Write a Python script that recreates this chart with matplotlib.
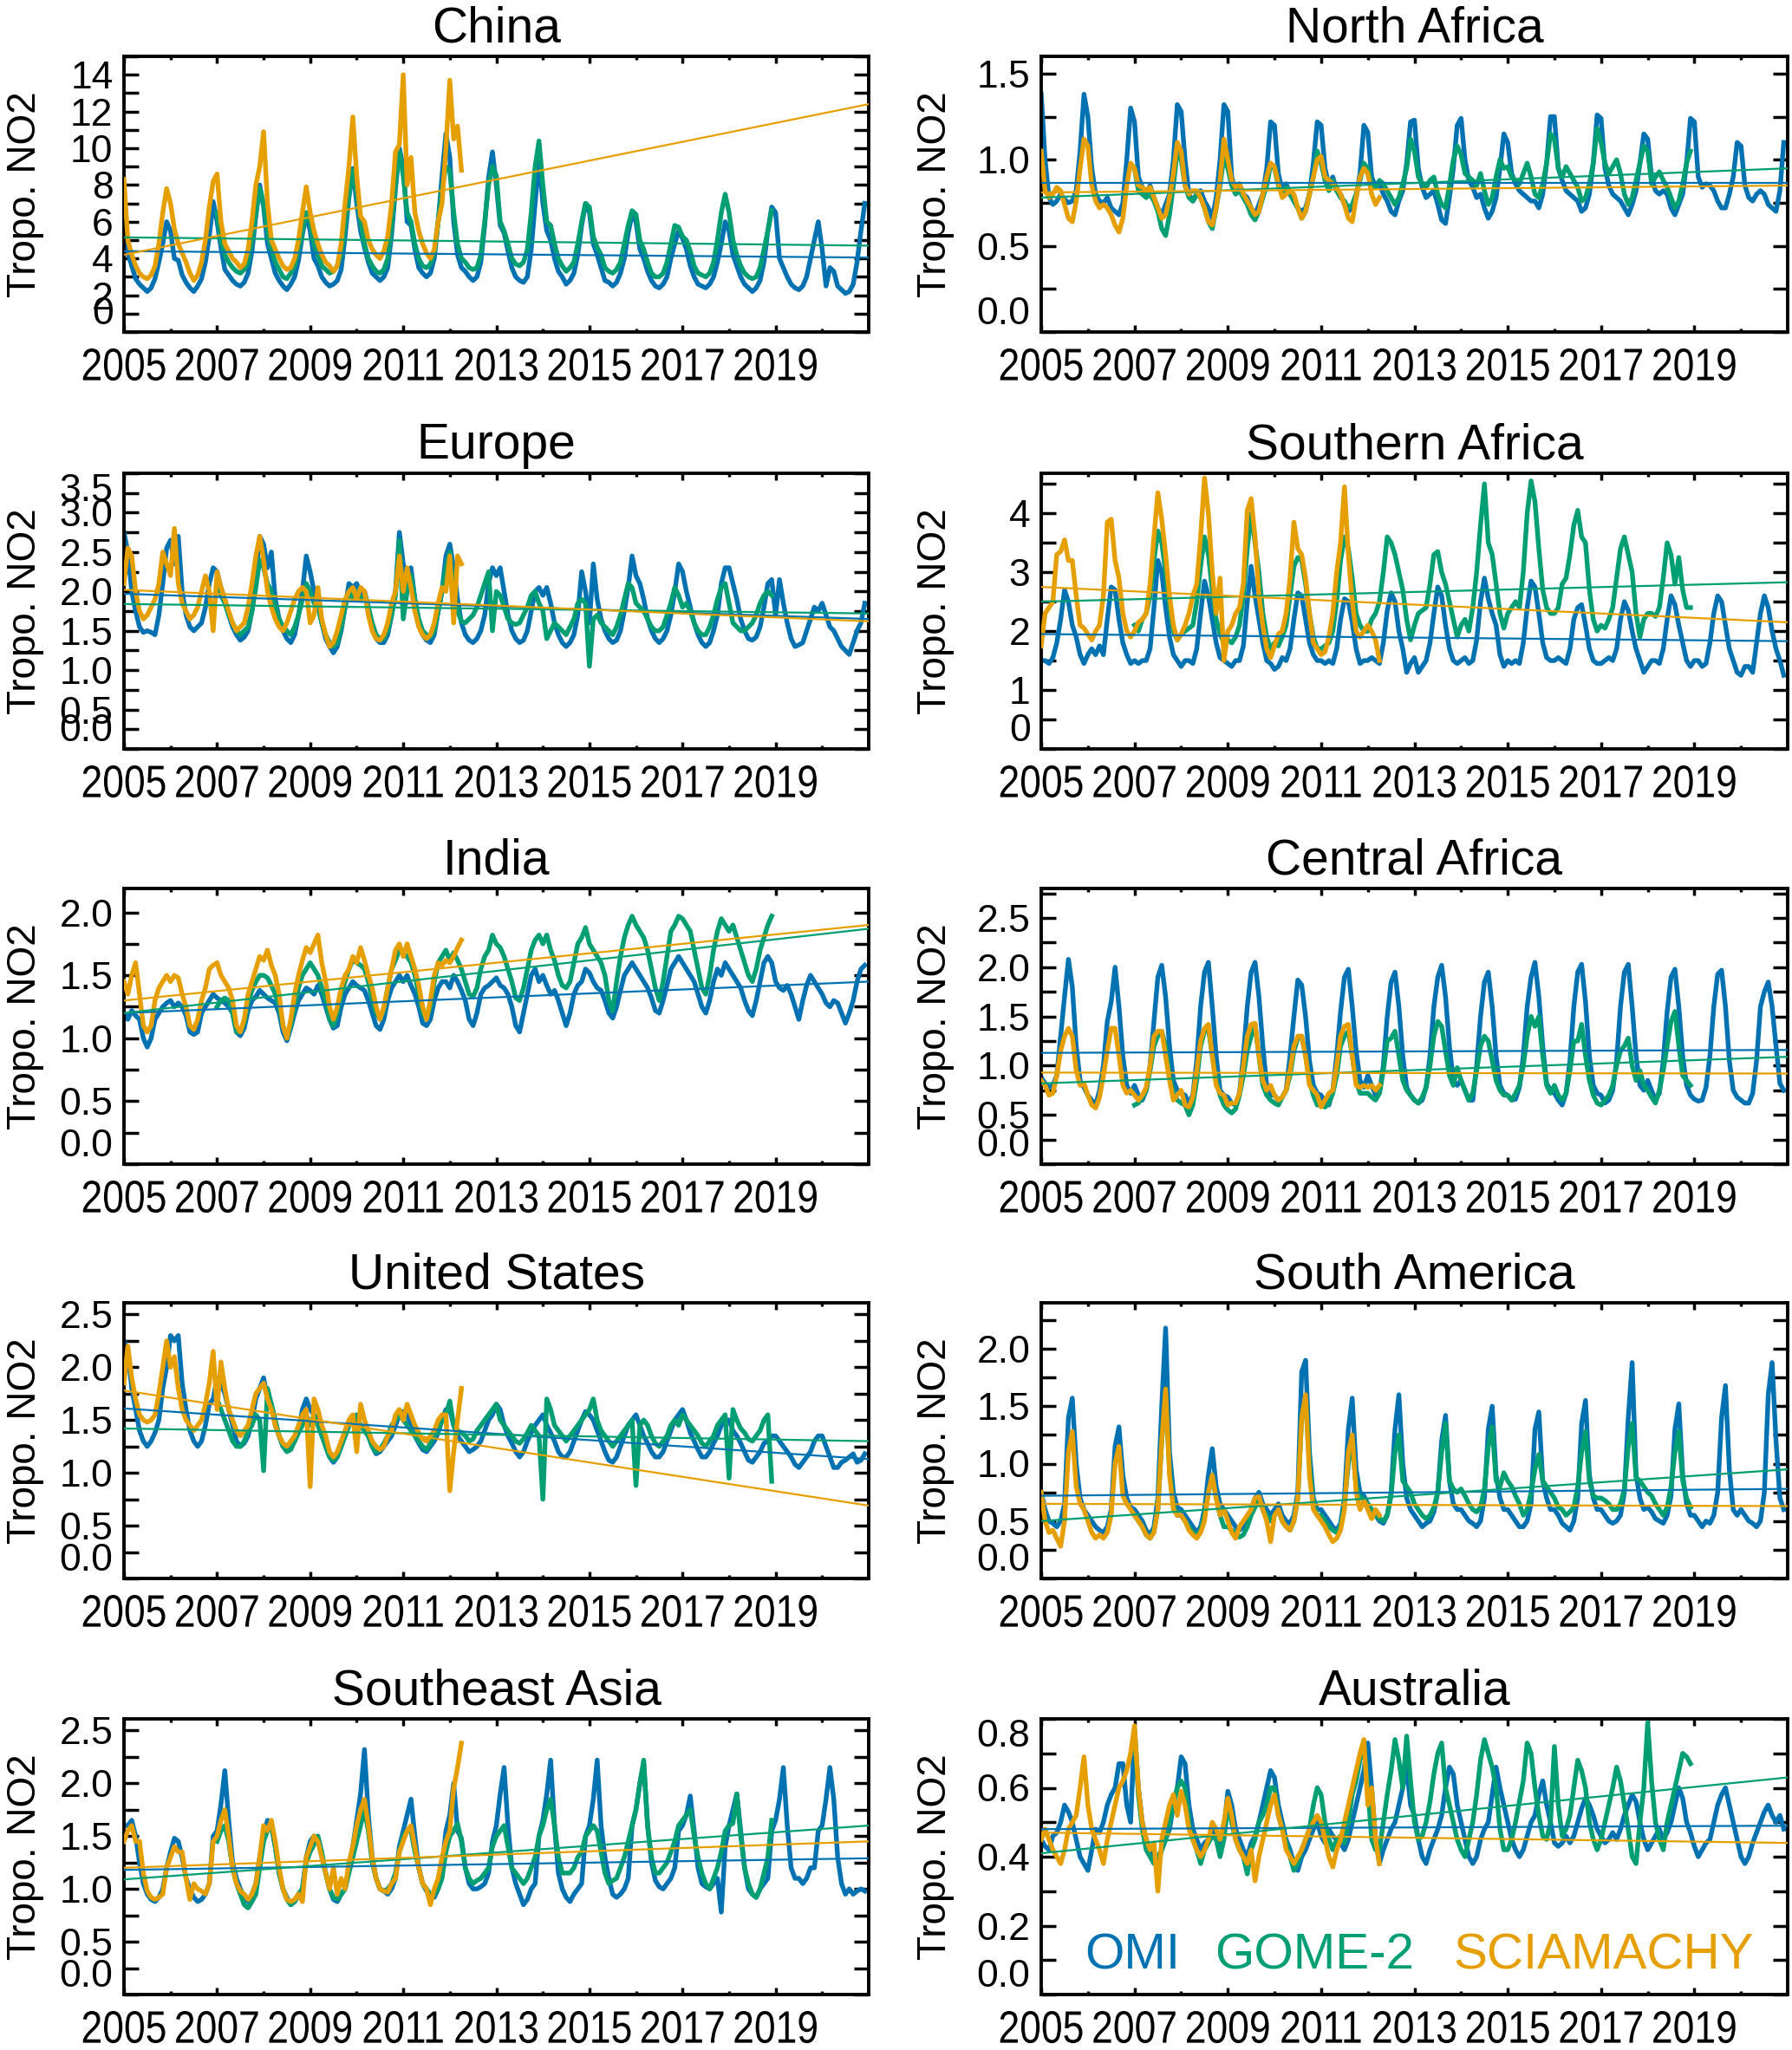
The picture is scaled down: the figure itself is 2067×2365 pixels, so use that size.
import numpy as np
import matplotlib
matplotlib.use("Agg")
import matplotlib.pyplot as plt
from matplotlib.ticker import FixedLocator, MultipleLocator
from matplotlib.patheffects import AbstractPathEffect
from matplotlib.transforms import Affine2D

# colours of the three instruments
c_omi = "#0072B2"
c_gome = "#009E73"
c_scia = "#E69F00"

# monthly series: OMI 2005-01..2020-12, GOME-2 2007-01..2018-12, SCIAMACHY 2005-01..2012-04
omi_china = [
    5.8, 4.3, 3.6, 2.9, 2.6, 2.4, 2.2, 2.4, 2.9, 3.8, 4.8, 6.0,
    5.5, 4.0, 3.9, 3.1, 2.7, 2.4, 2.2, 2.5, 2.9, 3.8, 5.2, 7.1,
    6.0, 4.6, 3.4, 3.1, 2.8, 2.6, 2.5, 2.7, 3.2, 4.4, 6.3, 8.0,
    6.8, 4.8, 4.0, 3.2, 2.8, 2.5, 2.3, 2.6, 3.0, 3.9, 5.3, 6.4,
    5.5, 4.0, 3.6, 3.0, 2.7, 2.5, 2.6, 2.8, 3.4, 5.2, 7.3, 8.9,
    7.0, 5.5, 4.6, 3.8, 3.2, 3.0, 2.8, 3.0, 3.5, 5.3, 7.8, 10.0,
    9.0, 6.0, 5.8, 4.5, 3.5, 3.2, 3.0, 3.2, 4.0, 6.0, 8.5, 10.8,
    9.5, 6.0, 4.2, 3.5, 3.3, 3.0, 2.8, 3.0, 3.8, 5.8, 8.4, 9.8,
    8.0, 5.8, 5.4, 4.4, 3.5, 3.0, 2.8, 2.7, 3.0, 4.5, 7.0, 9.4,
    7.0, 5.5, 5.0, 4.0, 3.3, 3.0, 2.6, 2.8, 3.2, 4.2, 5.8, 7.0,
    6.5, 4.8, 4.2, 3.5, 2.8, 2.7, 2.5, 2.7, 3.2, 4.0, 5.4, 6.4,
    6.0, 4.5, 4.0, 3.3, 2.8, 2.5, 2.4, 2.6, 3.0, 4.0, 4.8, 5.5,
    5.1, 4.5, 3.6, 3.0, 2.6, 2.5, 2.4, 2.6, 3.0, 3.8, 4.8, 6.0,
    5.5, 4.2, 3.6, 3.0, 2.6, 2.4, 2.2, 2.4, 2.8, 3.8, 5.5, 6.8,
    6.5, 4.0, 3.5, 3.0, 2.6, 2.4, 2.3, 2.5, 3.0, 4.0, 5.0, 6.0,
    4.5, 2.5, 3.5, 3.3, 2.5, 2.3, 2.1, 2.2, 2.6, 3.8, 5.5, 7.0,
]
gome_china = [
    6.5, 5.0, 4.2, 3.8, 3.5, 3.3, 3.2, 3.4, 3.8, 5.0, 6.5, 7.8,
    7.0, 5.5, 4.5, 3.8, 3.4, 3.0, 2.9, 3.2, 3.6, 4.5, 5.5, 6.5,
    6.0, 4.8, 4.2, 3.6, 3.4, 3.2, 3.3, 3.6, 4.2, 5.8, 7.5, 8.8,
    7.5, 6.0, 4.8, 4.0, 3.6, 3.3, 3.2, 3.4, 4.0, 5.8, 8.0, 9.8,
    8.5, 6.5, 6.0, 4.8, 4.0, 3.6, 3.5, 3.7, 4.3, 6.0, 7.8, 9.0,
    8.8, 6.5, 4.8, 4.0, 3.8, 3.5, 3.4, 3.5, 4.2, 6.0, 8.0, 9.0,
    8.5, 6.0, 5.5, 4.8, 4.0, 3.7, 3.6, 3.8, 4.5, 6.5, 9.0, 10.4,
    8.0, 6.0, 5.8, 4.8, 4.0, 3.6, 3.3, 3.5, 3.8, 4.8, 6.0, 7.0,
    6.8, 5.2, 4.6, 4.2, 3.5, 3.3, 3.2, 3.4, 3.8, 4.8, 5.8, 6.6,
    6.4, 5.0, 4.5, 3.8, 3.2, 3.0, 3.0, 3.2, 3.8, 4.8, 5.8, 5.7,
    5.2, 5.0, 4.4, 3.6, 3.2, 3.1, 3.0, 3.2, 3.8, 5.0, 6.5, 7.5,
    6.5, 5.0, 4.2, 3.6, 3.2, 3.0, 2.9, 3.0, 3.5, 4.5, 5.5, 6.6,
]
scia_china = [
    8.3, 5.0, 4.2, 3.6, 3.2, 3.0, 2.9, 3.1, 3.6, 4.8, 6.5, 7.8,
    7.0, 5.6, 4.8, 4.3, 3.8, 3.2, 2.8, 3.1, 3.8, 5.0, 6.8, 8.2,
    8.6, 6.0, 4.8, 4.4, 4.0, 3.8, 3.5, 3.7, 4.5, 6.0, 8.0, 9.0,
    10.9, 7.0, 5.0, 4.5, 4.0, 3.6, 3.4, 3.5, 4.0, 5.0, 6.5, 7.9,
    6.5, 5.5, 4.8, 4.2, 3.8, 3.6, 3.3, 3.6, 4.8, 7.0, 9.0, 11.7,
    8.5, 6.3, 6.0, 5.0, 4.5, 4.2, 4.0, 4.4, 5.2, 7.0, 9.8, 10.2,
    14.0, 8.0, 9.5, 6.5, 5.5, 4.8, 4.3, 4.0, 4.5, 6.0, 7.0, 10.0,
    13.7, 10.5, 11.2, 8.8,
]

omi_nafr = [
    1.38, 1.0, 0.78, 0.74, 0.76, 0.8, 0.77, 0.75, 0.76, 0.82, 1.05, 1.38,
    1.25, 0.95, 0.8, 0.76, 0.75, 0.78, 0.72, 0.7, 0.68, 0.75, 1.0, 1.3,
    1.22, 0.9, 0.84, 0.8, 0.85, 0.78, 0.72, 0.68, 0.74, 0.8, 1.0, 1.32,
    1.28, 1.0, 0.8, 0.76, 0.8, 0.82, 0.76, 0.72, 0.66, 0.78, 1.0, 1.32,
    1.28, 0.9, 0.82, 0.86, 0.8, 0.78, 0.72, 0.68, 0.74, 0.8, 0.95, 1.22,
    1.2, 0.92, 0.82, 0.86, 0.8, 0.76, 0.72, 0.7, 0.72, 0.8, 0.98, 1.22,
    1.2, 0.95, 0.85, 0.9, 0.82, 0.8, 0.74, 0.7, 0.72, 0.78, 0.92, 1.2,
    1.16, 0.9, 0.84, 0.86, 0.8, 0.76, 0.7, 0.68, 0.76, 0.82, 0.98, 1.22,
    1.23, 0.95, 0.84, 0.78, 0.8, 0.82, 0.74, 0.65, 0.63, 0.78, 0.95, 1.2,
    1.24, 1.0, 0.88, 0.84, 0.78, 0.8, 0.72, 0.66, 0.7, 0.78, 0.95, 1.15,
    1.1, 0.92, 0.86, 0.82, 0.8, 0.78, 0.76, 0.76, 0.72, 0.8, 0.98, 1.25,
    1.25, 0.95, 0.88, 0.82, 0.8, 0.78, 0.76, 0.7, 0.72, 0.8, 0.98, 1.26,
    1.24, 0.95, 0.85, 0.8, 0.78, 0.76, 0.72, 0.68, 0.74, 0.82, 0.98, 1.15,
    1.12, 0.9, 0.82, 0.8, 0.82, 0.8, 0.72, 0.68, 0.74, 0.8, 0.98, 1.24,
    1.22, 0.9, 0.84, 0.86, 0.85, 0.82, 0.76, 0.72, 0.72, 0.8, 0.9, 1.1,
    1.08, 0.85, 0.78, 0.76, 0.8, 0.82, 0.8, 0.74, 0.72, 0.7, 0.82, 1.1,
]
gome_nafr = [
    0.95, 0.82, 0.8, 0.78, 0.8, 0.76, 0.7, 0.6, 0.56, 0.68, 0.85, 1.05,
    1.0, 0.85, 0.78, 0.76, 0.8, 0.78, 0.72, 0.64, 0.6, 0.72, 0.85, 1.02,
    0.95, 0.85, 0.8, 0.82, 0.78, 0.74, 0.68, 0.65, 0.7, 0.78, 0.85, 0.97,
    0.95, 0.85, 0.8, 0.84, 0.8, 0.76, 0.72, 0.66, 0.7, 0.8, 0.9, 1.05,
    0.98, 0.88, 0.82, 0.88, 0.82, 0.78, 0.76, 0.72, 0.74, 0.8, 0.88, 0.98,
    0.95, 0.86, 0.84, 0.88, 0.86, 0.82, 0.78, 0.74, 0.78, 0.86, 0.95, 1.12,
    1.05, 0.9, 0.86, 0.84, 0.88, 0.9, 0.8, 0.74, 0.72, 0.85, 1.0, 1.08,
    1.03, 0.92, 0.9, 0.88, 0.85, 0.92, 0.82, 0.74, 0.78, 0.9, 1.0, 0.95,
    0.96, 0.9, 0.88, 0.86, 0.92, 0.98, 0.9, 0.8, 0.78, 0.86, 0.98, 1.15,
    1.12, 0.95, 0.9, 0.96, 0.92, 0.88, 0.84, 0.76, 0.78, 0.86, 0.98, 1.18,
    1.1, 0.98, 0.92, 0.96, 1.0, 0.92, 0.8, 0.74, 0.78, 0.88, 0.98, 1.08,
    1.05, 0.86, 0.9, 0.93, 0.88, 0.84, 0.78, 0.72, 0.76, 0.86, 0.98, 1.05,
]
scia_nafr = [
    1.05, 0.82, 0.78, 0.8, 0.84, 0.82, 0.74, 0.66, 0.64, 0.76, 0.95, 1.12,
    1.08, 0.85, 0.76, 0.72, 0.74, 0.72, 0.68, 0.62, 0.58, 0.66, 0.85, 0.98,
    0.95, 0.85, 0.84, 0.82, 0.84, 0.78, 0.72, 0.66, 0.68, 0.78, 0.92, 1.1,
    1.05, 0.85, 0.8, 0.82, 0.82, 0.78, 0.72, 0.64, 0.62, 0.72, 0.88, 1.12,
    1.0, 0.88, 0.84, 0.86, 0.8, 0.76, 0.72, 0.68, 0.7, 0.8, 0.9, 0.98,
    0.96, 0.86, 0.78, 0.8, 0.82, 0.8, 0.72, 0.66, 0.7, 0.8, 0.9, 1.0,
    1.02, 0.9, 0.88, 0.86, 0.84, 0.8, 0.74, 0.66, 0.64, 0.78, 0.9, 0.95,
    0.92, 0.8, 0.74, 0.78,
]

omi_eur = [
    2.75, 2.5, 2.0, 1.75, 1.55, 1.48, 1.5, 1.48, 1.45, 1.7, 2.1, 2.55,
    2.65, 2.35, 2.7, 2.0, 1.7, 1.55, 1.5, 1.55, 1.6, 1.8, 2.1, 2.3,
    2.25, 2.05, 1.9, 1.7, 1.55, 1.45, 1.38, 1.42, 1.5, 1.75, 2.2, 2.7,
    2.6, 2.3, 2.5, 1.9, 1.65, 1.5, 1.4, 1.35, 1.45, 1.7, 2.0, 2.45,
    2.25, 2.0, 1.85, 1.6, 1.4, 1.3, 1.22, 1.3, 1.5, 1.8, 2.1, 2.05,
    2.1, 1.95, 2.0, 1.8, 1.55, 1.4, 1.35, 1.35, 1.45, 1.7, 2.0, 2.75,
    2.35, 2.1, 2.3, 1.9, 1.6, 1.45, 1.38, 1.35, 1.45, 1.75, 2.0, 2.45,
    2.6, 2.3, 1.9, 1.6, 1.45, 1.38, 1.35, 1.4, 1.5, 1.7, 2.1, 2.3,
    2.2, 2.3, 2.0, 1.7, 1.5, 1.4, 1.35, 1.38, 1.5, 1.75, 2.0, 2.05,
    1.95, 2.05, 1.85, 1.6, 1.45, 1.35, 1.3, 1.35, 1.45, 1.7, 2.25, 2.0,
    1.6, 2.35, 1.9, 1.65, 1.5, 1.4, 1.35, 1.38, 1.5, 1.75, 2.05, 2.45,
    2.2, 2.1, 1.9, 1.65, 1.5, 1.4, 1.35, 1.4, 1.5, 1.7, 2.0, 2.35,
    2.25, 2.0, 1.8, 1.6, 1.45, 1.35, 1.3, 1.35, 1.5, 1.7, 2.1, 2.3,
    2.3, 2.1, 1.9, 1.65, 1.5, 1.4, 1.38, 1.42, 1.55, 1.8, 2.1, 2.15,
    1.7, 2.15, 1.85, 1.6, 1.4, 1.3, 1.32, 1.35, 1.5, 1.65, 1.8, 1.75,
    1.85, 1.7, 1.55, 1.5, 1.4, 1.3, 1.25, 1.2, 1.35, 1.5, 1.6, 1.85,
]
gome_eur = [
    2.05, 1.95, 1.85, 1.7, 1.6, 1.5, 1.45, 1.5, 1.55, 1.75, 2.05, 2.4,
    2.3, 2.1, 2.0, 1.8, 1.65, 1.55, 1.5, 1.45, 1.55, 1.7, 1.9, 2.1,
    2.0, 1.85, 1.8, 1.6, 1.45, 1.35, 1.3, 1.35, 1.55, 1.8, 2.0, 1.9,
    2.0, 1.9, 1.95, 1.8, 1.6, 1.45, 1.4, 1.4, 1.5, 1.7, 1.95, 2.65,
    1.65, 2.0, 2.2, 1.9, 1.65, 1.5, 1.45, 1.42, 1.5, 1.75, 2.0, 2.3,
    2.5, 2.0, 1.75, 1.62, 1.6, 1.65, 1.7, 1.8, 1.95, 2.1, 2.25, 1.5,
    2.0, 1.95, 1.8, 1.65, 1.6, 1.58, 1.6, 1.7, 1.8, 1.95, 2.0, 1.85,
    1.75, 1.4, 1.5, 1.6, 1.55, 1.5, 1.45, 1.55, 1.65, 1.85, 1.9, 1.85,
    1.05, 1.65, 1.7, 1.6, 1.55, 1.5, 1.45, 1.55, 1.7, 1.9, 2.1, 2.05,
    1.85, 1.8, 1.75, 1.65, 1.55, 1.5, 1.5, 1.55, 1.7, 1.85, 2.05, 1.95,
    1.8, 1.85, 1.75, 1.6, 1.5, 1.45, 1.45, 1.55, 1.7, 1.9, 2.05, 2.1,
    1.85, 1.6, 1.55, 1.5, 1.5, 1.55, 1.6, 1.7, 1.85, 1.95, 2.0, 1.95,
]
scia_eur = [
    2.1, 2.55, 2.45, 2.0, 1.75, 1.65, 1.7, 1.8, 1.9, 2.1, 2.5, 2.35,
    2.2, 2.8, 2.1, 1.85, 1.75, 1.65, 1.7, 1.8, 2.0, 2.2, 2.0, 1.5,
    2.25, 2.05, 1.9, 1.75, 1.6, 1.5, 1.55, 1.6, 1.8, 2.1, 2.45, 2.7,
    2.4, 2.0, 1.8, 1.65, 1.55, 1.5, 1.6, 1.75, 1.9, 2.0, 2.05, 2.0,
    1.6, 1.7, 2.05, 1.65, 1.45, 1.3, 1.35, 1.5, 1.7, 1.9, 2.0, 2.05,
    1.9, 2.05, 2.0, 1.7, 1.5, 1.4, 1.38, 1.45, 1.6, 1.85, 2.0, 2.45,
    2.0, 2.3, 2.05, 1.75, 1.55, 1.45, 1.4, 1.45, 1.6, 1.85, 2.05, 2.0,
    2.45, 1.6, 2.45, 2.35,
]

omi_safr = [
    1.5, 1.5, 1.45, 1.55, 1.8, 2.2, 2.7, 2.5, 2.1, 1.9, 1.6, 1.45,
    1.6, 1.7, 1.6, 1.75, 1.6, 2.2, 2.75, 2.7, 2.2, 1.8, 1.6, 1.45,
    1.5, 1.45, 1.5, 1.5, 1.7, 2.4, 3.2, 3.0, 2.4, 1.9, 1.6, 1.5,
    1.4, 1.5, 1.5, 1.45, 1.7, 2.3, 2.85, 2.6, 2.2, 1.8, 1.55, 1.5,
    1.45, 1.4, 1.5, 1.5, 1.75, 2.5, 3.1, 2.6, 2.2, 1.8, 1.5, 1.45,
    1.35, 1.4, 1.55, 1.5, 1.7, 2.2, 2.65, 2.6, 2.2, 1.8, 1.6, 1.5,
    1.5, 1.45, 1.5, 1.45, 1.7, 2.2, 2.55, 2.5, 2.15, 1.7, 1.45, 1.5,
    1.5, 1.55, 1.5, 1.45, 1.8, 2.35, 2.65, 2.5, 2.0, 1.7, 1.3, 1.45,
    1.55, 1.3, 1.4, 1.5, 1.8, 2.3, 2.75, 2.6, 2.1, 1.7, 1.5, 1.45,
    1.5, 1.55, 1.45, 1.5, 1.85, 2.5, 2.9, 2.55, 2.3, 2.1, 1.6, 1.4,
    1.5, 1.45, 1.5, 1.45, 1.8, 2.4, 2.85, 2.75, 2.3, 1.8, 1.55, 1.5,
    1.5, 1.55, 1.5, 1.45, 1.7, 2.2, 2.4, 2.45, 2.1, 1.7, 1.5, 1.45,
    1.45, 1.5, 1.55, 1.5, 1.7, 2.2, 2.5, 2.35, 2.0, 1.7, 1.5, 1.3,
    1.4, 1.5, 1.5, 1.45, 1.7, 2.2, 2.6, 2.45, 2.1, 1.8, 1.5, 1.4,
    1.5, 1.5, 1.4, 1.45, 1.8, 2.3, 2.6, 2.5, 2.1, 1.7, 1.5, 1.3,
    1.25, 1.4, 1.4, 1.3, 1.8, 2.3, 2.6, 2.4, 2.0, 1.7, 1.5, 1.25,
]
gome_safr = [
    2.1, 2.0, 2.2, 2.3, 2.6, 3.2, 3.7, 3.5, 3.0, 2.4, 2.0, 1.85,
    1.95, 2.0, 2.05, 2.1, 2.5, 3.1, 3.6, 3.3, 2.7, 2.2, 1.95, 1.8,
    1.85, 1.8, 1.9, 2.1, 2.6, 3.4, 4.0, 3.5, 3.0, 2.3, 1.9, 1.7,
    1.8, 1.75, 1.9, 2.1, 2.6, 3.1, 3.25, 3.2, 2.8, 2.3, 1.9, 1.7,
    1.7, 1.75, 1.8, 2.0, 2.5, 3.2, 3.6, 3.4, 2.9, 2.3, 2.1, 2.0,
    2.0, 2.2, 2.3, 2.5, 3.0, 3.6, 3.5, 3.3, 3.0, 2.7, 2.2, 1.85,
    2.1, 2.3, 2.35, 2.4, 2.8, 3.3, 3.35, 3.0, 2.8, 2.5, 2.2, 1.9,
    2.1, 2.2, 2.0, 2.4, 3.0, 3.8, 4.5, 3.5, 3.3, 2.8, 2.3, 2.05,
    2.3, 2.4, 2.5, 2.4, 3.0, 4.0, 4.55, 4.2, 3.4, 2.7, 2.4, 2.3,
    2.3, 2.4, 2.8, 2.9, 3.3, 3.8, 4.05, 3.6, 3.5, 2.7, 2.2, 2.0,
    2.1, 2.05, 2.2, 2.4, 2.9, 3.4, 3.6, 3.3, 3.0, 2.3, 1.9, 2.2,
    2.3, 2.3, 2.25, 2.4, 2.9, 3.5, 3.3, 2.8, 3.25, 2.7, 2.4, 2.4,
]
scia_safr = [
    1.75, 2.3, 2.4, 2.5, 3.3, 3.35, 3.55, 3.2, 3.2, 2.6, 2.1, 2.05,
    1.95, 1.85, 2.0, 2.1, 2.6, 3.85, 3.9, 3.2, 2.9, 2.3, 2.0, 1.9,
    2.0, 2.15, 2.2, 2.3, 2.8, 3.6, 4.35, 3.9, 3.3, 2.6, 2.1, 1.85,
    1.95, 2.1, 2.3, 2.6, 2.8, 3.6, 4.6, 4.0, 3.0, 2.3, 2.9, 1.5,
    2.0, 2.1, 2.3, 2.4, 2.8, 4.05, 4.25, 3.6, 2.6, 2.1, 1.7, 1.55,
    1.75, 1.95, 2.0, 2.3, 2.9, 3.85, 3.4, 3.3, 2.9, 2.3, 1.8, 1.7,
    1.6, 1.65, 1.9, 2.3, 3.0, 3.5, 4.45, 3.3, 2.5, 2.0, 1.9, 2.0,
    2.1, 2.0, 1.85, 1.5,
]

omi_ind = [
    1.2, 1.15, 1.22, 1.18, 1.15, 1.0, 0.93, 1.0, 1.15, 1.2, 1.25, 1.28,
    1.3, 1.25, 1.28, 1.25, 1.18, 1.05, 1.03, 1.05, 1.2, 1.25, 1.3, 1.35,
    1.32, 1.3, 1.28, 1.25, 1.2, 1.05, 1.02, 1.08, 1.22, 1.3, 1.33, 1.38,
    1.35, 1.32, 1.3, 1.28, 1.2, 1.05, 0.98, 1.08, 1.2, 1.3, 1.35, 1.4,
    1.38, 1.35, 1.42, 1.35, 1.25, 1.15, 1.08, 1.1, 1.25, 1.35, 1.4, 1.45,
    1.42, 1.4, 1.38, 1.3, 1.2, 1.1, 1.07, 1.15, 1.3, 1.4, 1.45, 1.5,
    1.45, 1.5, 1.42, 1.35, 1.25, 1.12, 1.1, 1.15, 1.3, 1.4, 1.45, 1.45,
    1.4, 1.5, 1.45, 1.38, 1.3, 1.15, 1.1, 1.2, 1.35, 1.4, 1.42, 1.45,
    1.48, 1.42, 1.4, 1.35, 1.25, 1.1, 1.05, 1.2, 1.35, 1.5, 1.55, 1.45,
    1.5, 1.42, 1.35, 1.38, 1.3, 1.2, 1.1, 1.2, 1.35, 1.42, 1.45, 1.55,
    1.52, 1.45, 1.4, 1.38, 1.3, 1.2, 1.16, 1.25, 1.38, 1.5, 1.55, 1.6,
    1.55, 1.5, 1.45, 1.4, 1.32, 1.22, 1.2, 1.3, 1.42, 1.55, 1.6, 1.65,
    1.6, 1.55, 1.5, 1.45, 1.35, 1.25, 1.2, 1.3, 1.45, 1.55, 1.5, 1.6,
    1.55, 1.5, 1.45, 1.4, 1.3, 1.22, 1.18, 1.3, 1.45, 1.6, 1.65, 1.6,
    1.45, 1.4, 1.38, 1.42, 1.35, 1.25, 1.15, 1.3, 1.42, 1.5, 1.45, 1.4,
    1.35, 1.28, 1.25, 1.3, 1.28, 1.2, 1.12, 1.2, 1.3, 1.45, 1.55, 1.58,
]
gome_ind = [
    1.25, 1.3, 1.32, 1.3, 1.2, 1.05, 1.05, 1.12, 1.28, 1.38, 1.45, 1.5,
    1.5, 1.48, 1.42, 1.35, 1.25, 1.1, 1.0, 1.1, 1.25, 1.4, 1.5, 1.55,
    1.6, 1.55, 1.5, 1.4, 1.3, 1.15, 1.1, 1.2, 1.35, 1.45, 1.55, 1.62,
    1.6, 1.58, 1.55, 1.45, 1.3, 1.2, 1.15, 1.22, 1.4, 1.55, 1.62, 1.7,
    1.68, 1.65, 1.6, 1.5, 1.35, 1.2, 1.15, 1.25, 1.45, 1.6, 1.65, 1.7,
    1.62, 1.68, 1.62, 1.55, 1.45, 1.35, 1.33, 1.4, 1.55, 1.65, 1.7, 1.82,
    1.75, 1.72, 1.65, 1.55, 1.45, 1.32, 1.3, 1.4, 1.55, 1.7, 1.78, 1.82,
    1.75, 1.82, 1.7, 1.62, 1.5, 1.42, 1.4, 1.45, 1.6, 1.75, 1.8, 1.88,
    1.75, 1.7, 1.65, 1.6, 1.5, 1.3, 1.22, 1.45, 1.65, 1.8, 1.9, 1.97,
    1.9, 1.85, 1.8, 1.7, 1.55, 1.4, 1.3, 1.45, 1.65, 1.85, 1.9, 1.97,
    1.95, 1.9, 1.85, 1.7, 1.55, 1.4, 1.35, 1.5, 1.7, 1.85, 1.95, 1.9,
    1.85, 1.9, 1.8, 1.7, 1.6, 1.5, 1.45, 1.55, 1.7, 1.8, 1.9, 1.97,
]
scia_ind = [
    1.45, 1.35, 1.5, 1.6, 1.35, 1.1, 1.05, 1.1, 1.3, 1.4, 1.45, 1.5,
    1.45, 1.5, 1.48, 1.35, 1.25, 1.1, 1.07, 1.15, 1.3, 1.4, 1.55, 1.58,
    1.6, 1.5, 1.45, 1.4, 1.3, 1.1, 1.05, 1.15, 1.35, 1.45, 1.55, 1.65,
    1.62, 1.7, 1.58, 1.5, 1.35, 1.1, 1.0, 1.15, 1.35, 1.5, 1.62, 1.72,
    1.68, 1.75, 1.82, 1.6, 1.45, 1.25, 1.15, 1.25, 1.4, 1.5, 1.55, 1.65,
    1.6, 1.72, 1.62, 1.5, 1.4, 1.25, 1.15, 1.25, 1.4, 1.55, 1.7, 1.75,
    1.65, 1.75, 1.65, 1.55, 1.42, 1.25, 1.15, 1.3, 1.5, 1.6, 1.58, 1.62,
    1.6, 1.65, 1.72, 1.78,
]

omi_caf = [
    0.88, 0.82, 0.78, 0.8, 0.9, 1.3, 1.7, 2.08, 1.8, 1.2, 0.85, 0.78,
    0.7, 0.65, 0.6, 0.75, 1.0, 1.45, 1.65, 2.0, 1.6, 1.1, 0.8, 0.72,
    0.8, 0.7, 0.65, 0.75, 1.0, 1.45, 1.9, 2.02, 1.7, 1.2, 0.85, 0.75,
    0.72, 0.7, 0.62, 0.7, 1.05, 1.6, 1.95, 2.05, 1.6, 1.1, 0.75, 0.7,
    0.68, 0.62, 0.6, 0.72, 1.1, 1.6, 1.95, 2.05, 1.7, 1.2, 0.8, 0.7,
    0.7, 0.65, 0.68, 0.75, 1.1, 1.5, 1.87, 1.82, 1.5, 1.05, 0.8, 0.72,
    0.7, 0.62, 0.6, 0.75, 1.1, 1.55, 1.9, 1.98, 1.6, 1.15, 0.85, 0.78,
    0.9, 0.8, 0.7, 0.72, 1.0, 1.5, 1.85, 1.95, 1.6, 1.1, 0.78, 0.7,
    0.65, 0.62, 0.65, 0.78, 1.1, 1.6, 1.9, 2.02, 1.7, 1.2, 0.85, 0.8,
    0.85, 0.75, 0.65, 0.65, 1.0, 1.5, 1.85, 1.95, 1.6, 1.1, 0.8, 0.72,
    0.7, 0.65, 0.66, 0.78, 1.1, 1.6, 1.9, 2.05, 1.7, 1.2, 0.82, 0.75,
    0.72, 0.65, 0.6, 0.72, 1.05, 1.6, 1.95, 2.03, 1.65, 1.1, 0.8, 0.72,
    0.7, 0.62, 0.65, 0.75, 1.05, 1.6, 1.95, 2.03, 1.6, 1.1, 0.8, 0.75,
    0.85, 0.75, 0.65, 0.72, 1.05, 1.55, 1.9, 1.98, 1.6, 1.1, 0.8, 0.7,
    0.66, 0.64, 0.65, 0.78, 1.1, 1.6, 1.93, 1.97, 1.6, 1.05, 0.75, 0.68,
    0.65, 0.62, 0.62, 0.72, 1.05, 1.6, 1.75, 1.85, 1.6, 1.2, 0.82, 0.75,
]
gome_caf = [
    0.6, 0.62, 0.68, 0.75, 0.95, 1.2, 1.3, 1.35, 1.2, 0.9, 0.72, 0.65,
    0.62, 0.6, 0.5, 0.6, 0.85, 1.2, 1.35, 1.38, 1.1, 0.85, 0.7, 0.6,
    0.55, 0.52, 0.56, 0.7, 0.9, 1.15, 1.3, 1.42, 1.1, 0.8, 0.7, 0.65,
    0.62, 0.6, 0.68, 0.75, 0.9, 1.15, 1.28, 1.3, 1.1, 0.85, 0.7, 0.6,
    0.6, 0.58, 0.62, 0.72, 0.9, 1.2, 1.3, 1.35, 1.1, 0.85, 0.72, 0.72,
    0.72, 0.68, 0.65, 0.72, 0.95, 1.25, 1.28, 1.35, 1.1, 0.85, 0.75, 0.7,
    0.65, 0.62, 0.68, 0.78, 1.0, 1.3, 1.45, 1.4, 1.15, 0.9, 0.8, 0.98,
    0.85, 0.75, 0.65, 0.72, 0.95, 1.2, 1.3, 1.25, 1.05, 0.85, 0.75, 0.7,
    0.7, 0.65, 0.72, 0.8, 1.0, 1.3, 1.5, 1.4, 1.5, 1.1, 0.8, 0.72,
    0.8, 0.7, 0.65, 0.72, 0.95, 1.25, 1.25, 1.42, 1.1, 0.85, 0.7, 0.62,
    0.6, 0.65, 0.7, 0.8, 1.0, 1.15, 1.2, 1.28, 1.0, 0.85, 0.95, 0.8,
    0.75, 0.68, 0.62, 0.75, 0.95, 1.2, 1.45, 1.55, 1.2, 0.9, 0.85, 0.8,
]
scia_caf = [
    0.85, 0.8, 0.7, 0.72, 0.9, 1.15, 1.3, 1.38, 1.3, 0.95, 0.8, 0.82,
    0.7, 0.6, 0.57, 0.68, 0.9, 1.15, 1.38, 1.38, 1.1, 0.8, 0.72, 0.75,
    0.7, 0.65, 0.7, 0.78, 1.0, 1.3, 1.35, 1.35, 1.1, 0.85, 0.65, 0.7,
    0.75, 0.6, 0.58, 0.68, 0.95, 1.25, 1.38, 1.42, 1.1, 0.8, 0.72, 0.7,
    0.6, 0.62, 0.62, 0.72, 1.0, 1.3, 1.42, 1.43, 1.1, 0.85, 0.75, 0.8,
    0.7, 0.65, 0.68, 0.75, 0.95, 1.2, 1.3, 1.3, 1.1, 0.8, 0.75, 0.7,
    0.58, 0.65, 0.72, 0.75, 1.0, 1.3, 1.4, 1.42, 1.1, 0.8, 0.78, 0.8,
    0.78, 0.8, 0.75, 0.8,
]

omi_us = [
    2.25, 2.15, 1.8, 1.6, 1.4, 1.3, 1.25, 1.3, 1.38, 1.5, 1.8, 2.0,
    2.3, 2.25, 2.3, 1.85, 1.6, 1.4, 1.3, 1.25, 1.3, 1.45, 1.65, 1.7,
    1.9, 1.85, 1.75, 1.6, 1.45, 1.3, 1.25, 1.28, 1.35, 1.5, 1.7, 1.8,
    1.9, 1.7, 1.65, 1.45, 1.35, 1.25, 1.22, 1.25, 1.3, 1.4, 1.6, 1.7,
    1.6, 1.55, 1.5, 1.38, 1.25, 1.15, 1.1, 1.15, 1.25, 1.35, 1.45, 1.5,
    1.5, 1.45, 1.4, 1.35, 1.25, 1.18, 1.2, 1.25, 1.3, 1.35, 1.45, 1.55,
    1.58, 1.55, 1.45, 1.35, 1.28, 1.22, 1.2, 1.25, 1.3, 1.38, 1.5, 1.6,
    1.6, 1.45, 1.35, 1.3, 1.25, 1.2, 1.22, 1.25, 1.3, 1.4, 1.5, 1.55,
    1.65, 1.6, 1.45, 1.35, 1.28, 1.2, 1.15, 1.2, 1.3, 1.38, 1.45, 1.5,
    1.55, 1.45, 1.38, 1.3, 1.2, 1.15, 1.15, 1.2, 1.3, 1.4, 1.5, 1.58,
    1.55, 1.5, 1.4, 1.3, 1.2, 1.12, 1.1, 1.15, 1.25, 1.35, 1.45, 1.5,
    1.55, 1.45, 1.35, 1.28, 1.2, 1.15, 1.15, 1.2, 1.3, 1.4, 1.5, 1.55,
    1.6, 1.5, 1.38, 1.3, 1.22, 1.15, 1.15, 1.2, 1.28, 1.35, 1.45, 1.5,
    1.5, 1.4, 1.35, 1.28, 1.2, 1.12, 1.1, 1.15, 1.2, 1.28, 1.3, 1.35,
    1.35, 1.3, 1.25, 1.2, 1.15, 1.08, 1.05, 1.1, 1.15, 1.2, 1.3, 1.35,
    1.35, 1.25, 1.15, 1.05, 1.05, 1.1, 1.12, 1.15, 1.18, 1.1, 1.12, 1.18,
]
gome_us = [
    1.7, 1.6, 1.5, 1.4, 1.3, 1.25, 1.25, 1.3, 1.4, 1.45, 1.55, 1.5,
    1.02, 1.8, 1.65, 1.5, 1.35, 1.25, 1.2, 1.22, 1.3, 1.38, 1.45, 1.55,
    1.45, 1.55, 1.45, 1.35, 1.25, 1.15, 1.12, 1.15, 1.25, 1.35, 1.45, 1.5,
    1.55, 1.45, 1.4, 1.35, 1.25, 1.2, 1.22, 1.28, 1.35, 1.45, 1.5, 1.55,
    1.5, 1.45, 1.4, 1.35, 1.3, 1.25, 1.22, 1.28, 1.35, 1.4, 1.5, 1.55,
    1.68, 1.45, 1.4, 1.38, 1.35, 1.3, 1.32, 1.4, 1.45, 1.5, 1.55, 1.6,
    1.65, 1.5, 1.45, 1.4, 1.35, 1.3, 1.28, 1.32, 1.38, 1.45, 1.4, 1.35,
    0.75, 1.7, 1.6, 1.45, 1.4, 1.35, 1.3, 1.35, 1.4, 1.45, 1.5, 1.55,
    1.6, 1.7, 1.5, 1.4, 1.35, 1.3, 1.25, 1.3, 1.35, 1.4, 1.45, 1.5,
    0.88, 1.45, 1.5, 1.45, 1.35, 1.28, 1.25, 1.3, 1.35, 1.45, 1.5, 1.45,
    1.55, 1.5, 1.45, 1.4, 1.35, 1.28, 1.25, 1.3, 1.35, 1.45, 1.5, 1.55,
    0.95, 1.6, 1.5, 1.42, 1.38, 1.32, 1.3, 1.35, 1.4, 1.5, 1.55, 0.92,
]
scia_us = [
    1.85, 2.2, 1.9, 1.7, 1.55, 1.5, 1.48, 1.5, 1.55, 1.75, 2.0, 2.25,
    2.0, 2.1, 1.8, 1.6, 1.5, 1.45, 1.4, 1.45, 1.5, 1.65, 1.85, 2.15,
    1.6, 2.05, 1.8, 1.6, 1.5, 1.4, 1.35, 1.4, 1.45, 1.6, 1.75, 1.8,
    1.85, 1.7, 1.6, 1.45, 1.35, 1.28, 1.25, 1.3, 1.35, 1.45, 1.55, 1.6,
    0.87, 1.7, 1.6, 1.45, 1.35, 1.2, 1.15, 1.2, 1.3, 1.4, 1.5, 1.55,
    1.2, 1.65, 1.5, 1.4, 1.3, 1.25, 1.22, 1.25, 1.35, 1.4, 1.55, 1.6,
    1.5, 1.65, 1.55, 1.45, 1.38, 1.32, 1.3, 1.35, 1.4, 1.5, 1.55, 1.55,
    0.83, 1.2, 1.5, 1.8,
]

omi_sam = [
    0.75, 0.6, 0.5, 0.48, 0.45, 0.5, 0.65, 1.4, 1.57, 1.0, 0.7, 0.6,
    0.55, 0.5, 0.45, 0.42, 0.4, 0.45, 0.6, 1.15, 1.32, 0.9, 0.7, 0.62,
    0.6, 0.55, 0.5, 0.42, 0.38, 0.45, 0.7, 1.5, 2.18, 1.1, 0.75, 0.62,
    0.6, 0.55, 0.5, 0.45, 0.4, 0.45, 0.6, 0.9, 1.13, 0.8, 0.65, 0.6,
    0.55, 0.5, 0.45, 0.42, 0.45, 0.5, 0.6, 0.7, 0.75, 0.65, 0.6, 0.55,
    0.6, 0.65, 0.55, 0.5, 0.48, 0.55, 0.75, 1.8, 1.9, 1.1, 0.7, 0.6,
    0.6, 0.55, 0.5, 0.45, 0.42, 0.48, 0.7, 1.3, 1.57, 0.95, 0.75, 0.72,
    0.65, 0.6, 0.55, 0.5, 0.48, 0.55, 0.75, 1.3, 1.6, 1.0, 0.7, 0.6,
    0.55, 0.5, 0.45, 0.48, 0.5, 0.58, 0.75, 1.2, 1.42, 0.85, 0.65, 0.6,
    0.6, 0.55, 0.5, 0.48, 0.45, 0.5, 0.7, 1.3, 1.5, 0.9, 0.7, 0.6,
    0.6, 0.55, 0.5, 0.45, 0.45, 0.5, 0.65, 1.3, 1.45, 0.85, 0.7, 0.6,
    0.6, 0.55, 0.48, 0.45, 0.42, 0.5, 0.7, 1.35, 1.55, 0.9, 0.7, 0.6,
    0.6, 0.55, 0.5, 0.48, 0.5, 0.55, 0.75, 1.4, 1.88, 0.9, 0.7, 0.6,
    0.62, 0.58, 0.52, 0.5, 0.48, 0.55, 0.72, 1.3, 1.52, 0.9, 0.65, 0.55,
    0.55, 0.5, 0.45, 0.5, 0.48, 0.55, 0.75, 1.4, 1.68, 0.95, 0.6, 0.55,
    0.6, 0.55, 0.5, 0.48, 0.45, 0.5, 0.75, 1.6, 1.88, 1.2, 0.7, 0.6,
]
gome_sam = [
    0.55, 0.5, 0.45, 0.38, 0.35, 0.42, 0.6, 1.2, 1.6, 0.95, 0.65, 0.55,
    0.55, 0.5, 0.45, 0.4, 0.38, 0.42, 0.55, 0.75, 0.9, 0.7, 0.55, 0.45,
    0.45, 0.42, 0.4, 0.36, 0.38, 0.45, 0.55, 0.62, 0.7, 0.6, 0.55, 0.5,
    0.55, 0.6, 0.5, 0.45, 0.42, 0.5, 0.7, 1.4, 1.55, 1.0, 0.65, 0.55,
    0.55, 0.5, 0.45, 0.42, 0.4, 0.45, 0.65, 1.0, 1.2, 0.8, 0.72, 0.68,
    0.65, 0.6, 0.55, 0.52, 0.5, 0.55, 0.72, 1.1, 1.25, 0.85, 0.8, 0.75,
    0.65, 0.6, 0.55, 0.52, 0.55, 0.62, 0.75, 1.1, 1.35, 0.85, 0.78, 0.75,
    0.78, 0.72, 0.65, 0.6, 0.58, 0.62, 0.78, 1.15, 1.32, 0.85, 0.8, 0.92,
    0.85, 0.8, 0.72, 0.65, 0.55, 0.6, 0.75, 0.95, 1.08, 0.85, 0.8, 0.75,
    0.7, 0.62, 0.6, 0.55, 0.58, 0.62, 0.8, 1.1, 1.28, 0.85, 0.72, 0.7,
    0.7, 0.68, 0.65, 0.6, 0.6, 0.65, 0.78, 1.15, 1.35, 0.88, 0.85, 0.8,
    0.75, 0.72, 0.65, 0.6, 0.55, 0.62, 0.8, 1.1, 1.28, 0.85, 0.7, 0.62,
]
scia_sam = [
    0.75, 0.5, 0.4, 0.42, 0.35, 0.28, 0.5, 1.1, 1.28, 0.8, 0.65, 0.6,
    0.5, 0.4, 0.35, 0.38, 0.35, 0.4, 0.55, 1.0, 1.15, 0.72, 0.65, 0.6,
    0.55, 0.5, 0.45, 0.38, 0.35, 0.4, 0.6, 1.2, 1.65, 0.9, 0.6, 0.55,
    0.55, 0.5, 0.42, 0.38, 0.35, 0.4, 0.5, 0.75, 0.9, 0.7, 0.55, 0.6,
    0.5, 0.4, 0.35, 0.45, 0.5, 0.55, 0.6, 0.7, 0.72, 0.6, 0.5, 0.32,
    0.55, 0.6, 0.5, 0.45, 0.42, 0.5, 0.7, 1.4, 1.6, 0.9, 0.6, 0.55,
    0.5, 0.45, 0.38, 0.32, 0.35, 0.42, 0.6, 1.1, 1.25, 0.75, 0.6, 0.68,
    0.6, 0.52, 0.6, 0.55,
]

omi_sea = [
    1.6, 1.6, 1.65, 1.5, 1.25, 1.05, 0.95, 0.9, 0.88, 0.92, 1.0, 1.2,
    1.35, 1.48, 1.45, 1.3, 1.1, 1.0, 0.92, 0.88, 0.9, 0.95, 1.05, 1.5,
    1.55, 1.8, 2.12, 1.65, 1.25, 1.1, 1.0, 0.92, 0.88, 0.95, 1.05, 1.3,
    1.5, 1.65, 1.6, 1.4, 1.15, 1.0, 0.92, 0.85, 0.88, 0.95, 1.0, 1.3,
    1.45, 1.5, 1.48, 1.3, 1.15, 1.0, 0.9, 0.88, 0.95, 1.0, 1.2, 1.4,
    1.65, 1.9, 2.32, 1.7, 1.3, 1.1, 1.0, 0.98, 0.95, 1.0, 1.1, 1.4,
    1.55, 1.7, 1.85, 1.5, 1.2, 1.05, 0.98, 0.95, 0.92, 1.0, 1.2, 1.55,
    1.7, 2.0, 1.55, 1.48, 1.2, 1.05, 1.0, 1.0, 1.02, 1.05, 1.15, 1.45,
    1.6, 1.9, 2.15, 1.6, 1.2, 1.05, 0.95, 0.85, 0.9, 1.0, 1.05, 1.5,
    1.65, 1.9, 2.22, 1.6, 1.15, 1.0, 0.92, 0.88, 0.95, 1.0, 1.05, 1.5,
    1.6, 1.85, 2.22, 1.6, 1.3, 1.1, 0.95, 0.92, 0.95, 1.0, 1.1, 1.6,
    1.75, 2.0, 2.18, 1.6, 1.25, 1.08, 1.02, 1.0, 1.05, 1.1, 1.2, 1.55,
    1.6, 1.7, 1.88, 1.55, 1.2, 1.05, 1.02, 1.0, 1.05, 1.1, 0.78, 1.4,
    1.6, 1.75, 1.9, 1.55, 1.2, 1.0, 0.95, 0.92, 1.0, 1.05, 1.1, 1.55,
    1.65, 1.85, 2.15, 1.6, 1.2, 1.1, 1.1, 1.05, 1.1, 1.2, 1.2, 1.55,
    1.6, 1.85, 2.15, 1.85, 1.3, 1.05, 0.95, 1.0, 0.95, 0.98, 1.0, 0.98,
]
gome_sea = [
    1.45, 1.55, 1.6, 1.45, 1.2, 1.05, 0.95, 0.85, 0.82, 0.88, 0.95, 1.2,
    1.45, 1.55, 1.6, 1.4, 1.15, 1.0, 0.9, 0.85, 0.88, 0.95, 1.0, 1.25,
    1.35, 1.42, 1.5, 1.35, 1.15, 1.0, 0.92, 0.9, 0.95, 1.0, 1.15, 1.3,
    1.45, 1.6, 1.75, 1.55, 1.25, 1.1, 1.0, 0.98, 1.0, 1.05, 1.15, 1.35,
    1.5, 1.55, 1.55, 1.35, 1.2, 1.05, 1.0, 0.95, 0.95, 1.0, 1.1, 1.35,
    1.5, 1.55, 1.62, 1.45, 1.2, 1.1, 1.05, 1.08, 1.1, 1.15, 1.2, 1.4,
    1.5, 1.55, 1.6, 1.4, 1.2, 1.15, 1.1, 1.05, 1.1, 1.2, 1.3, 1.5,
    1.6, 1.75, 1.85, 1.6, 1.3, 1.15, 1.15, 1.15, 1.2, 1.3, 1.35, 1.5,
    1.55, 1.6, 1.55, 1.35, 1.15, 1.05, 1.08, 1.1, 1.2, 1.3, 1.45, 1.6,
    1.75, 2.0, 2.22, 1.6, 1.3, 1.15, 1.15, 1.2, 1.25, 1.35, 1.45, 1.6,
    1.65, 1.7, 1.75, 1.5, 1.3, 1.15, 1.05, 1.0, 1.1, 1.2, 1.35, 1.55,
    1.6, 1.62, 1.9, 1.5, 1.2, 1.05, 0.95, 0.92, 1.0, 1.15, 1.3, 1.65,
]
scia_sea = [
    1.45, 1.55, 1.6, 1.45, 1.45, 1.15, 0.98, 0.92, 0.9, 0.92, 0.95, 1.2,
    1.3, 1.4, 1.35, 1.35, 1.1, 0.9, 1.05, 1.0, 0.98, 0.95, 1.05, 1.45,
    1.5, 1.65, 1.75, 1.5, 1.2, 1.05, 0.98, 0.95, 0.9, 0.95, 1.05, 1.3,
    1.6, 1.55, 1.65, 1.45, 1.2, 1.0, 0.9, 0.88, 0.9, 0.95, 0.88, 1.3,
    1.4, 1.5, 1.45, 1.3, 1.15, 1.0, 1.2, 0.95, 1.1, 1.0, 1.25, 1.4,
    1.6, 1.75, 1.85, 1.6, 1.3, 1.1, 1.0, 0.98, 0.97, 1.05, 1.1, 1.35,
    1.45, 1.55, 1.6, 1.4, 1.2, 1.05, 1.0, 0.85, 1.0, 1.1, 1.3, 1.45,
    1.55, 1.95, 2.15, 2.38,
]

omi_aus = [
    0.45, 0.43, 0.42, 0.46, 0.47, 0.5, 0.55, 0.53, 0.5, 0.45, 0.4, 0.38,
    0.36, 0.42, 0.48, 0.47, 0.5, 0.55, 0.58, 0.6, 0.67, 0.67, 0.55, 0.5,
    0.77, 0.6, 0.5, 0.45, 0.42, 0.4, 0.38, 0.42, 0.45, 0.48, 0.55, 0.6,
    0.69, 0.67, 0.55, 0.48, 0.45, 0.42, 0.44, 0.45, 0.48, 0.45, 0.43, 0.48,
    0.59, 0.55, 0.48, 0.45, 0.42, 0.4, 0.44, 0.46, 0.5, 0.55, 0.6, 0.65,
    0.63, 0.55, 0.5, 0.45, 0.42, 0.38, 0.36, 0.4, 0.42, 0.45, 0.48, 0.5,
    0.46, 0.44, 0.48, 0.46, 0.45, 0.44, 0.42, 0.45, 0.5, 0.55, 0.6, 0.65,
    0.73, 0.6, 0.45, 0.38, 0.42, 0.45, 0.48, 0.5, 0.55, 0.6, 0.66, 0.55,
    0.52, 0.45, 0.4, 0.38, 0.42, 0.45, 0.48, 0.52, 0.6, 0.66, 0.64, 0.55,
    0.5, 0.45, 0.4, 0.38, 0.4, 0.45, 0.48, 0.5, 0.58, 0.66, 0.6, 0.55,
    0.5, 0.45, 0.42, 0.4, 0.42, 0.46, 0.5, 0.52, 0.58, 0.62, 0.55, 0.5,
    0.44, 0.43, 0.44, 0.46, 0.44, 0.46, 0.5, 0.54, 0.57, 0.55, 0.52, 0.48,
    0.46, 0.44, 0.45, 0.47, 0.45, 0.48, 0.52, 0.55, 0.58, 0.56, 0.5, 0.45,
    0.42, 0.44, 0.46, 0.48, 0.45, 0.47, 0.5, 0.55, 0.6, 0.57, 0.5, 0.47,
    0.43, 0.4, 0.42, 0.44, 0.45, 0.5, 0.55, 0.58, 0.6, 0.55, 0.5, 0.45,
    0.4, 0.38, 0.4, 0.44, 0.47, 0.5, 0.53, 0.55, 0.52, 0.5, 0.52, 0.48,
]
gome_aus = [
    0.75, 0.58, 0.48, 0.42, 0.4, 0.38, 0.4, 0.42, 0.45, 0.5, 0.55, 0.6,
    0.62, 0.6, 0.5, 0.45, 0.42, 0.38, 0.42, 0.44, 0.46, 0.45, 0.4, 0.45,
    0.55, 0.5, 0.45, 0.42, 0.4, 0.35, 0.42, 0.45, 0.5, 0.52, 0.55, 0.6,
    0.6, 0.52, 0.48, 0.44, 0.4, 0.36, 0.38, 0.42, 0.45, 0.48, 0.55, 0.6,
    0.58, 0.5, 0.45, 0.42, 0.45, 0.46, 0.44, 0.5, 0.58, 0.62, 0.68, 0.72,
    0.6, 0.45, 0.42, 0.42, 0.5, 0.58, 0.65, 0.74, 0.68, 0.6, 0.75, 0.62,
    0.5, 0.45, 0.46, 0.5, 0.56, 0.64, 0.7, 0.73, 0.6, 0.55, 0.5, 0.45,
    0.42, 0.4, 0.45, 0.5, 0.58, 0.68, 0.74, 0.7, 0.66, 0.6, 0.48, 0.42,
    0.42, 0.45, 0.5, 0.56, 0.62, 0.73, 0.7, 0.6, 0.52, 0.46, 0.45, 0.5,
    0.72, 0.55, 0.46, 0.48, 0.52, 0.6, 0.68, 0.65, 0.6, 0.5, 0.45, 0.42,
    0.45, 0.5, 0.55, 0.6, 0.66, 0.62, 0.55, 0.48, 0.4, 0.38, 0.5, 0.6,
    0.79, 0.62, 0.5, 0.45, 0.42, 0.5, 0.55, 0.6, 0.65, 0.7, 0.69, 0.67,
]
scia_aus = [
    0.45, 0.48, 0.45, 0.42, 0.4, 0.38, 0.42, 0.48, 0.5, 0.52, 0.6, 0.69,
    0.55, 0.48, 0.45, 0.42, 0.38, 0.45, 0.5, 0.55, 0.6, 0.62, 0.65, 0.7,
    0.78, 0.6, 0.5, 0.45, 0.42, 0.44, 0.3, 0.45, 0.5, 0.55, 0.58, 0.52,
    0.59, 0.55, 0.48, 0.45, 0.42, 0.4, 0.42, 0.45, 0.5, 0.48, 0.45, 0.5,
    0.57, 0.52, 0.45, 0.42, 0.4, 0.38, 0.42, 0.33, 0.4, 0.45, 0.5, 0.55,
    0.58, 0.52, 0.48, 0.42, 0.4, 0.38, 0.4, 0.42, 0.45, 0.48, 0.5, 0.52,
    0.5, 0.45, 0.4, 0.37, 0.42, 0.45, 0.5, 0.55, 0.6, 0.65, 0.7, 0.74,
    0.55, 0.6, 0.45, 0.38,
]

# linear trends read at 2005 and 2021: (OMI, GOME-2, SCIAMACHY)
trend_china = [(4.4, 4.05), (5.15, 4.7), (4.2, 12.4)]
trend_nafr = [(0.865, 0.865), (0.78, 0.95), (0.81, 0.85)]
trend_eur = [(1.97, 1.65), (1.84, 1.72), (2.02, 1.62)]
trend_safr = [(1.95, 1.83), (2.5, 2.83), (2.75, 2.15)]
trend_ind = [(1.2, 1.45), (1.2, 1.87), (1.3, 1.9)]
trend_caf = [(1.13, 1.16), (0.82, 1.09), (0.93, 0.92)]
trend_us = [(1.61, 1.13), (1.42, 1.3), (1.78, 0.69)]
trend_sam = [(0.72, 0.78), (0.5, 0.95), (0.65, 0.63)]
trend_sea = [(1.18, 1.29), (1.09, 1.6), (1.2, 1.45)]
trend_aus = [(0.48, 0.49), (0.41, 0.63), (0.47, 0.44)]

titles = ["China", "North Africa", "Europe", "Southern Africa", "India",
          "Central Africa", "United States", "South America", "Southeast Asia", "Australia"]
series = [
    (omi_china, gome_china, scia_china, trend_china),
    (omi_nafr, gome_nafr, scia_nafr, trend_nafr),
    (omi_eur, gome_eur, scia_eur, trend_eur),
    (omi_safr, gome_safr, scia_safr, trend_safr),
    (omi_ind, gome_ind, scia_ind, trend_ind),
    (omi_caf, gome_caf, scia_caf, trend_caf),
    (omi_us, gome_us, scia_us, trend_us),
    (omi_sam, gome_sam, scia_sam, trend_sam),
    (omi_sea, gome_sea, scia_sea, trend_sea),
    (omi_aus, gome_aus, scia_aus, trend_aus),
]
ytop = [15, 1.6, 3.5, 4.68, 2.19, 2.8, 2.61, 2.4, 2.61, 0.8]
ystep = [2, 0.5, 0.5, 1, 0.5, 0.5, 0.5, 0.5, 0.5, 0.2]
yminor = [1, 0.25, 0.25, 0.5, 0.25, 0.25, 0.25, 0.25, 0.25, 0.1]
ydigits = [0, 1, 1, 0, 1, 1, 1, 1, 1, 1]

start_omi, start_gome, start_scia = 2005, 2007, 2005
year_labels = list(range(2005, 2020, 2))


class Tall(AbstractPathEffect):
    # the year labels of the original are drawn in a tall, narrow face
    def __init__(self, sy):
        super().__init__()
        self.sy = sy

    def draw_path(self, renderer, gc, tpath, affine, rgbFace=None):
        renderer.draw_path(gc, tpath, Affine2D().scale(1, self.sy) + affine, rgbFace)


plt.rcParams['font.family'] = ['Liberation Sans', 'DejaVu Sans']

W, H = 2067, 2365
fig = plt.figure(figsize=(W / 100, H / 100), dpi=100)

col_x = [143, 1201]
col_w = [859, 861]
row_top = [65, 546, 1025, 1503, 1983]
row_h = 318

for i, (title, (omi, gome, scia, trend)) in enumerate(zip(titles, series)):
    r, c = i // 2, i % 2
    ax = fig.add_axes([col_x[c] / W, 1 - (row_top[r] + row_h) / H, col_w[c] / W, row_h / H])

    t_omi = start_omi + np.arange(len(omi)) / 12.0
    t_gome = start_gome + np.arange(len(gome)) / 12.0
    t_scia = start_scia + np.arange(len(scia)) / 12.0
    ax.plot(t_omi, omi, color=c_omi, lw=3.9, zorder=2)
    ax.plot(t_gome, gome, color=c_gome, lw=3.9, zorder=3)
    ax.plot(t_scia, scia, color=c_scia, lw=3.9, zorder=4)
    for (a, b), col in zip(trend, [c_omi, c_gome, c_scia]):
        ax.plot([2005, 2021], [a, b], color=col, lw=1.6, zorder=5)

    ax.set_xlim(2005, 2021)
    ax.set_ylim(0, ytop[i])
    ax.xaxis.set_major_locator(FixedLocator(year_labels))
    ax.xaxis.set_minor_locator(FixedLocator(list(range(2006, 2021, 2))))
    ax.set_xticklabels([str(y) for y in year_labels])
    yt = np.arange(0, ytop[i] + 1e-6, ystep[i])
    ax.set_yticks(yt)
    ax.set_yticklabels([f"{v:.{ydigits[i]}f}" for v in yt])
    ax.yaxis.set_minor_locator(MultipleLocator(yminor[i]))

    ax.tick_params(which='both', direction='in', top=True, right=True,
                   width=2.5, labelsize=32)
    ax.tick_params(axis='x', which='major', length=5.5, pad=17)
    ax.tick_params(axis='x', which='minor', length=3)
    ax.tick_params(axis='y', which='both', length=12, pad=9)
    for s in ax.spines.values():
        s.set_linewidth(2.8)

    for tk in ax.xaxis.get_major_ticks():
        tk.label1.set_path_effects([Tall(1.18)])

    # end labels kept inside the axis height, as in the original
    yticks = ax.yaxis.get_major_ticks()
    yticks[0].label1.set_va('bottom')
    if abs(yt[-1] - ytop[i]) < 1e-6:
        yticks[-1].label1.set_va('top')

    ax.set_title(title, fontsize=41, pad=12)
    fig.text((29 if c == 0 else 1079) / W, 1 - (row_top[r] + row_h / 2) / H, "Tropo. NO2",
             rotation=90, ha='center', va='center', fontsize=33)

    if title == "Australia":
        for txt, xx, col in [("OMI", 0.058, c_omi), ("GOME-2", 0.232, c_gome),
                             ("SCIAMACHY", 0.552, c_scia)]:
            ax.text(xx, 0.14, txt, color=col, fontsize=42,
                    transform=ax.transAxes, ha='left', va='center')

fig.savefig("out.png", dpi=100)
